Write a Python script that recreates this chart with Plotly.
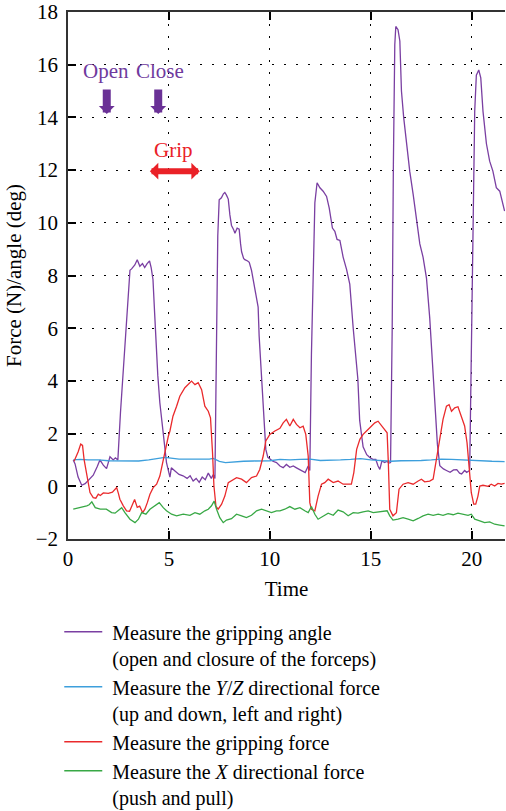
import plotly.graph_objects as go

# ---- data (time in s, value) ----
angle_t = [0.26, 0.35, 0.5, 0.68, 0.85, 1.05, 1.25, 1.45, 1.58, 1.75, 1.91, 2.08, 2.24, 2.35, 2.47,
           2.6, 2.74, 2.9, 2.98, 3.07, 3.15, 3.31, 3.43, 3.56, 3.69, 3.8, 3.92, 4.04, 4.12, 4.21, 4.29,
           4.37, 4.45, 4.55, 4.72, 4.88, 5.05, 5.12, 5.3, 5.5, 5.7, 5.9, 6.05, 6.2, 6.35, 6.5, 6.65,
           6.8, 6.95, 7.1, 7.2, 7.28, 7.32, 7.36, 7.42, 7.49, 7.6, 7.7, 7.77, 7.85, 7.94, 8.02, 8.1,
           8.2, 8.27, 8.38, 8.48, 8.55, 8.6, 8.7, 8.76, 8.9, 8.98, 9.09, 9.18, 9.26, 9.35, 9.42, 9.47,
           9.55, 9.62, 9.7, 9.8, 9.9, 10.0, 10.15, 10.33, 10.5, 10.66, 10.82, 10.99, 11.16, 11.32,
           11.49, 11.65, 11.75, 11.9, 11.98, 12.06, 12.15, 12.23, 12.34, 12.48, 12.64, 12.81, 12.94,
           13.1, 13.22, 13.33, 13.47, 13.63, 13.8, 13.96, 14.13, 14.26, 14.36, 14.45, 14.54, 14.62,
           14.8, 14.95, 15.1, 15.25, 15.36, 15.45, 15.55, 15.69, 15.8, 15.9, 15.98, 16.06, 16.12,
           16.19, 16.24, 16.35, 16.44, 16.52, 16.63, 16.77, 16.93, 17.1, 17.26, 17.43, 17.59, 17.76,
           17.92, 18.08, 18.17, 18.3, 18.42, 18.6, 18.75, 18.93, 19.1, 19.26, 19.4, 19.5, 19.65,
           19.75, 19.9, 19.98, 20.07, 20.15, 20.23, 20.35, 20.45, 20.56, 20.73, 20.89, 21.05, 21.22,
           21.39, 21.52, 21.63]
angle_v = [1.0, 0.85, 0.35, 0.04, 0.1, 0.25, 0.42, 0.75, 1.0, 0.8, 0.67, 1.12, 1.0, 1.08, 1.0,
           2.8, 4.4, 6.2, 7.5, 8.2, 8.25, 8.4, 8.6, 8.35, 8.45, 8.3, 8.45, 8.55, 8.3, 7.85, 6.6,
           5.3, 4.2, 3.17, 1.9, 0.9, 0.35, 0.7, 0.58, 0.45, 0.4, 0.3, 0.4, 0.2, 0.3, 0.15, 0.35,
           0.25, 0.5, 0.3, 0.45, 0.3, 3.0, 6.0, 9.5, 10.87, 10.95, 11.1, 11.15, 11.05, 10.9, 10.3, 9.9,
           9.75, 9.6, 9.8, 9.76, 9.2, 8.9, 8.65, 8.6, 8.55, 8.5, 8.2, 7.8, 7.45, 7.0, 6.8, 5.7,
           4.6, 3.4, 2.3, 1.4, 1.1, 1.04, 0.95, 0.9, 0.77, 0.71, 0.83, 0.72, 0.77, 0.7,
           0.64, 0.58, 0.52, 0.77, 0.6, 5.0, 7.67, 10.76, 11.52, 11.33, 11.2, 11.0, 10.57,
           9.8, 9.68, 9.37, 9.33, 8.7, 8.23, 7.67, 6.0, 5.0, 4.07, 2.5, 1.9, 1.5,
           1.2, 1.09, 1.02, 1.02, 0.77, 0.64, 0.96, 0.9, 0.95, 0.88, 0.9, 5.9, 12.2,
           16.76, 17.45, 17.33, 16.9, 15.0, 14.0, 13.0, 11.96, 11.08, 10.07, 9.2, 8.7, 7.9,
           6.4, 4.4, 3.2, 1.6, 0.78, 0.66, 0.6, 0.53, 0.62, 0.63, 0.5, 0.47, 0.6,
           0.53, 0.6, 4.4, 9.2, 14.23, 15.6, 15.8, 15.5, 14.23, 13.0, 12.34, 11.96, 11.33,
           11.2, 10.8, 10.44]

yz_t = [0.26, 0.6, 1.0, 1.5, 2.0, 2.5, 3.0, 3.5, 4.0, 4.5, 4.8, 5.1, 5.5, 6.0, 6.5, 7.0, 7.2, 7.5,
        7.8, 8.2, 8.7, 9.2, 9.7, 10.0, 10.5, 11.0, 11.5, 12.0, 12.5, 13.0, 13.5, 14.0, 14.5, 15.0,
        15.5, 16.0, 16.5, 17.0, 17.5, 18.0, 18.5, 19.0, 19.5, 20.0, 20.5, 21.0, 21.63]
yz_v = [1.0, 1.02, 1.0, 1.0, 0.97, 0.97, 0.95, 0.96, 1.0, 1.05, 1.1, 1.07, 1.03, 1.03, 1.02, 1.03,
        1.06, 0.95, 0.9, 0.93, 0.95, 0.96, 0.98, 0.97, 1.02, 1.0, 1.02, 1.03, 0.98, 0.98, 1.0, 1.02,
        1.05, 1.0, 0.98, 0.95, 0.97, 0.97, 0.98, 1.0, 1.03, 1.02, 1.0, 0.98, 0.95, 0.95, 0.94]

grip_t = [0.3, 0.5, 0.63, 0.72, 0.8, 0.96, 1.09, 1.25, 1.38, 1.5, 1.6, 1.75, 2.0, 2.2, 2.41, 2.5,
          2.57, 2.74, 2.9, 3.05, 3.23, 3.3, 3.43, 3.55, 3.7, 3.81, 3.93, 4.06, 4.22, 4.39, 4.55,
          4.72, 4.85, 4.97, 5.05, 5.2, 5.38, 5.54, 5.79, 5.96, 6.12, 6.29, 6.45, 6.62, 6.78, 6.95,
          7.06, 7.16, 7.23, 7.33, 7.44, 7.61, 7.77, 7.94, 8.18, 8.35, 8.6, 8.84, 9.09, 9.34, 9.5,
          9.67, 9.8, 10.0, 10.25, 10.5, 10.66, 10.82, 10.99, 11.16, 11.32, 11.49, 11.65, 11.78,
          11.9, 11.98, 12.06, 12.23, 12.39, 12.56, 12.72, 12.89, 13.14, 13.38, 13.63, 13.88, 14.04,
          14.16, 14.3, 14.46, 14.62, 14.79, 14.95, 15.2, 15.36, 15.53, 15.69, 15.81, 15.87, 15.94,
          16.1, 16.27, 16.4, 16.6, 16.85, 17.1, 17.35, 17.51, 17.67, 17.92, 18.09, 18.25, 18.42,
          18.58, 18.75, 18.88, 19.0, 19.16, 19.32, 19.49, 19.65, 19.77, 19.87, 19.98, 20.1, 20.2,
          20.31, 20.4, 20.56, 20.81, 20.97, 21.14, 21.3, 21.47, 21.63]
grip_v = [0.95, 1.3, 1.6, 1.55, 1.0, 0.27, -0.24, -0.43, -0.45, -0.3, -0.35, -0.25, -0.27, -0.22,
          -0.05, -0.28, -0.49, -0.74, -0.93, -0.95, -0.62, -0.5, -0.8, -0.75, -1.0, -0.87, -0.62,
          -0.3, -0.05, 0.08, 0.39, 1.02, 1.4, 1.9, 2.1, 2.66, 3.04, 3.42, 3.74, 3.86, 3.99, 3.86,
          3.93, 3.67, 3.04, 2.85, 2.6, 1.28, 0.01, -0.76, -0.87, -0.68, -0.37, 0.14, 0.27, 0.33,
          0.27, 0.14, 0.33, 0.39, 0.64, 1.15, 1.72, 1.97, 2.1, 2.2, 2.41, 2.54, 2.29, 2.54, 2.35,
          2.22, 2.28, 1.97, 1.15, -0.62, -0.87, -0.93, -0.37, 0.08, 0.14, 0.27, 0.14, 0.2, 0.08,
          0.08, 0.08, 0.52, 1.4, 1.78, 1.97, 2.1, 2.22, 2.41, 2.47, 2.29, 2.16, 2.03, 0.9, -0.87,
          -1.12, -1.0, -0.11, 0.08, 0.14, 0.08, 0.2, 0.27, 0.17, 0.2, 0.27, 1.02, 1.9, 2.54, 3.04,
          3.1, 2.85, 2.98, 3.02, 2.66, 2.29, 1.65, 0.64, -0.24, -0.68, -0.68, -0.37, 0.01, 0.04,
          0.0, 0.08, 0.01, 0.11, 0.08, 0.11]

x_t = [0.26, 0.6, 0.93, 1.05, 1.18, 1.35, 1.6, 1.9, 2.16, 2.33, 2.49, 2.66, 2.82, 3.07, 3.32, 3.49,
       3.65, 3.86, 4.06, 4.31, 4.52, 4.72, 4.88, 5.13, 5.38, 5.71, 6.04, 6.29, 6.53, 6.78, 6.95,
       7.11, 7.24, 7.36, 7.52, 7.69, 7.85, 8.1, 8.35, 8.6, 8.84, 9.09, 9.34, 9.59, 9.83, 10.08,
       10.33, 10.5, 10.74, 10.99, 11.24, 11.49, 11.73, 11.9, 12.06, 12.23, 12.39, 12.64, 12.89,
       13.14, 13.38, 13.63, 13.88, 14.13, 14.37, 14.62, 14.87, 15.12, 15.36, 15.61, 15.81, 15.94,
       16.1, 16.35, 16.6, 16.85, 17.1, 17.35, 17.59, 17.84, 18.09, 18.34, 18.58, 18.83, 19.08,
       19.32, 19.57, 19.82, 19.98, 20.15, 20.4, 20.64, 20.89, 21.14, 21.39, 21.63]
x_v = [-0.87, -0.81, -0.74, -0.7, -0.59, -0.81, -0.87, -0.87, -1.0, -1.02, -0.93, -0.81, -1.0,
       -1.25, -1.38, -1.25, -1.0, -1.06, -0.87, -0.72, -0.62, -0.81, -0.93, -1.06, -1.12, -1.06,
       -1.1, -1.0, -1.06, -0.93, -0.87, -0.74, -0.56, -0.87, -1.19, -1.38, -1.28, -1.23, -1.06,
       -1.12, -1.19, -1.1, -0.93, -0.87, -0.93, -1.0, -0.93, -0.93, -0.87, -0.77, -0.87, -0.81,
       -0.93, -1.0, -0.77, -1.06, -1.25, -1.12, -1.02, -1.1, -0.9, -0.97, -1.12, -1.0, -1.02,
       -0.97, -0.93, -1.0, -0.97, -0.93, -0.93, -1.12, -1.28, -1.25, -1.19, -1.25, -1.31, -1.22,
       -1.12, -1.06, -1.1, -1.06, -1.1, -1.04, -1.08, -1.02, -1.06, -1.1, -1.06, -1.25, -1.31,
       -1.38, -1.35, -1.44, -1.47, -1.5]

x_ticks = [0, 5, 10, 15, 20]
y_ticks = [-2, 0, 2, 4, 6, 8, 10, 12, 14, 16, 18]

NB = "\u00a0"
names = [NB + "Measure the gripping angle<br>" + NB + "(open and closure of the forceps)",
         NB + "Measure the <i>Y</i>/<i>Z</i> directional force<br>" + NB + "(up and down, left and right)",
         NB + "Measure the gripping force",
         NB + "Measure the <i>X</i> directional force<br>" + NB + "(push and pull)"]

FONT = "Liberation Serif, Times New Roman, serif"
PURPLE = "#7a3fa2"
BLUE = "#3d9fdc"
RED = "#ea2a2c"
GREEN = "#38a845"
FS = 21
LEG_FS = 20

fig = go.Figure()
fig.add_trace(go.Scatter(x=angle_t, y=angle_v, mode="lines", name=names[0],
                         line=dict(color=PURPLE, width=1.3)))
fig.add_trace(go.Scatter(x=yz_t, y=yz_v, mode="lines", name=names[1],
                         line=dict(color=BLUE, width=1.3)))
fig.add_trace(go.Scatter(x=grip_t, y=grip_v, mode="lines", name=names[2],
                         line=dict(color=RED, width=1.3)))
fig.add_trace(go.Scatter(x=x_t, y=x_v, mode="lines", name=names[3],
                         line=dict(color=GREEN, width=1.3)))

# annotations
ann_font = dict(family=FONT, size=FS)
fig.add_annotation(x=1.9, y=15.77, text="Open", showarrow=False, font=dict(ann_font, color="#6f3a9e"))
fig.add_annotation(x=4.55, y=15.77, text="Close", showarrow=False, font=dict(ann_font, color="#6f3a9e"))
for xa in [1.92, 4.47]:
    fig.add_annotation(x=xa, y=14.13, ax=xa, ay=15.12, axref="x", ayref="y", xref="x", yref="y",
                       text="", showarrow=True, arrowhead=1, arrowsize=0.33, arrowwidth=8,
                       arrowcolor="#6a3196")
fig.add_annotation(x=5.25, y=12.75, text="Grip", showarrow=False, font=dict(ann_font, color="#ea2127"))
fig.add_annotation(x=6.53, y=11.96, ax=3.98, ay=11.96, axref="x", ayref="y", xref="x", yref="y",
                   text="", showarrow=True, arrowhead=1, arrowside="end+start", arrowsize=0.47,
                   arrowwidth=6, arrowcolor="#ea2127")

axis_common = dict(showgrid=True, gridcolor="black", gridwidth=1.3, griddash="1.5px,10.5px",
                   zeroline=False, ticks="inside", ticklen=8, tickwidth=2, tickcolor="black",
                   linecolor="#333", linewidth=1.5, showline=True, ticklabeloverflow="allow",
                   tickfont=dict(family=FONT, size=21, color="black"))

fig.update_xaxes(axis_common, range=[0, 21.65], tickvals=x_ticks, mirror="ticks",
                 title=dict(text="Time", font=dict(family=FONT, size=FS, color="black"), standoff=11))
fig.update_yaxes(axis_common, range=[-2, 18], tickvals=y_ticks, ticklabelstandoff=4,
                 ticktext=[("\u2212" + str(-v)) if v < 0 else str(v) for v in y_ticks],
                 title=dict(text="Force (N)/angle (deg)", font=dict(family=FONT, size=FS, color="black"),
                            standoff=8))

fig.update_layout(
    width=506, height=811,
    margin=dict(l=68, r=1, t=12, b=272, autoexpand=False),
    plot_bgcolor="white", paper_bgcolor="white",
    font=dict(family=FONT, size=FS, color="black"),
    showlegend=True,
    legend=dict(x=-0.02, y=-0.139, xanchor="left", yanchor="top", valign="top",
                itemwidth=38,
                font=dict(family=FONT, size=LEG_FS, color="black"), tracegroupgap=0,
                bgcolor="rgba(0,0,0,0)"),
)

fig.write_html("out.html")
